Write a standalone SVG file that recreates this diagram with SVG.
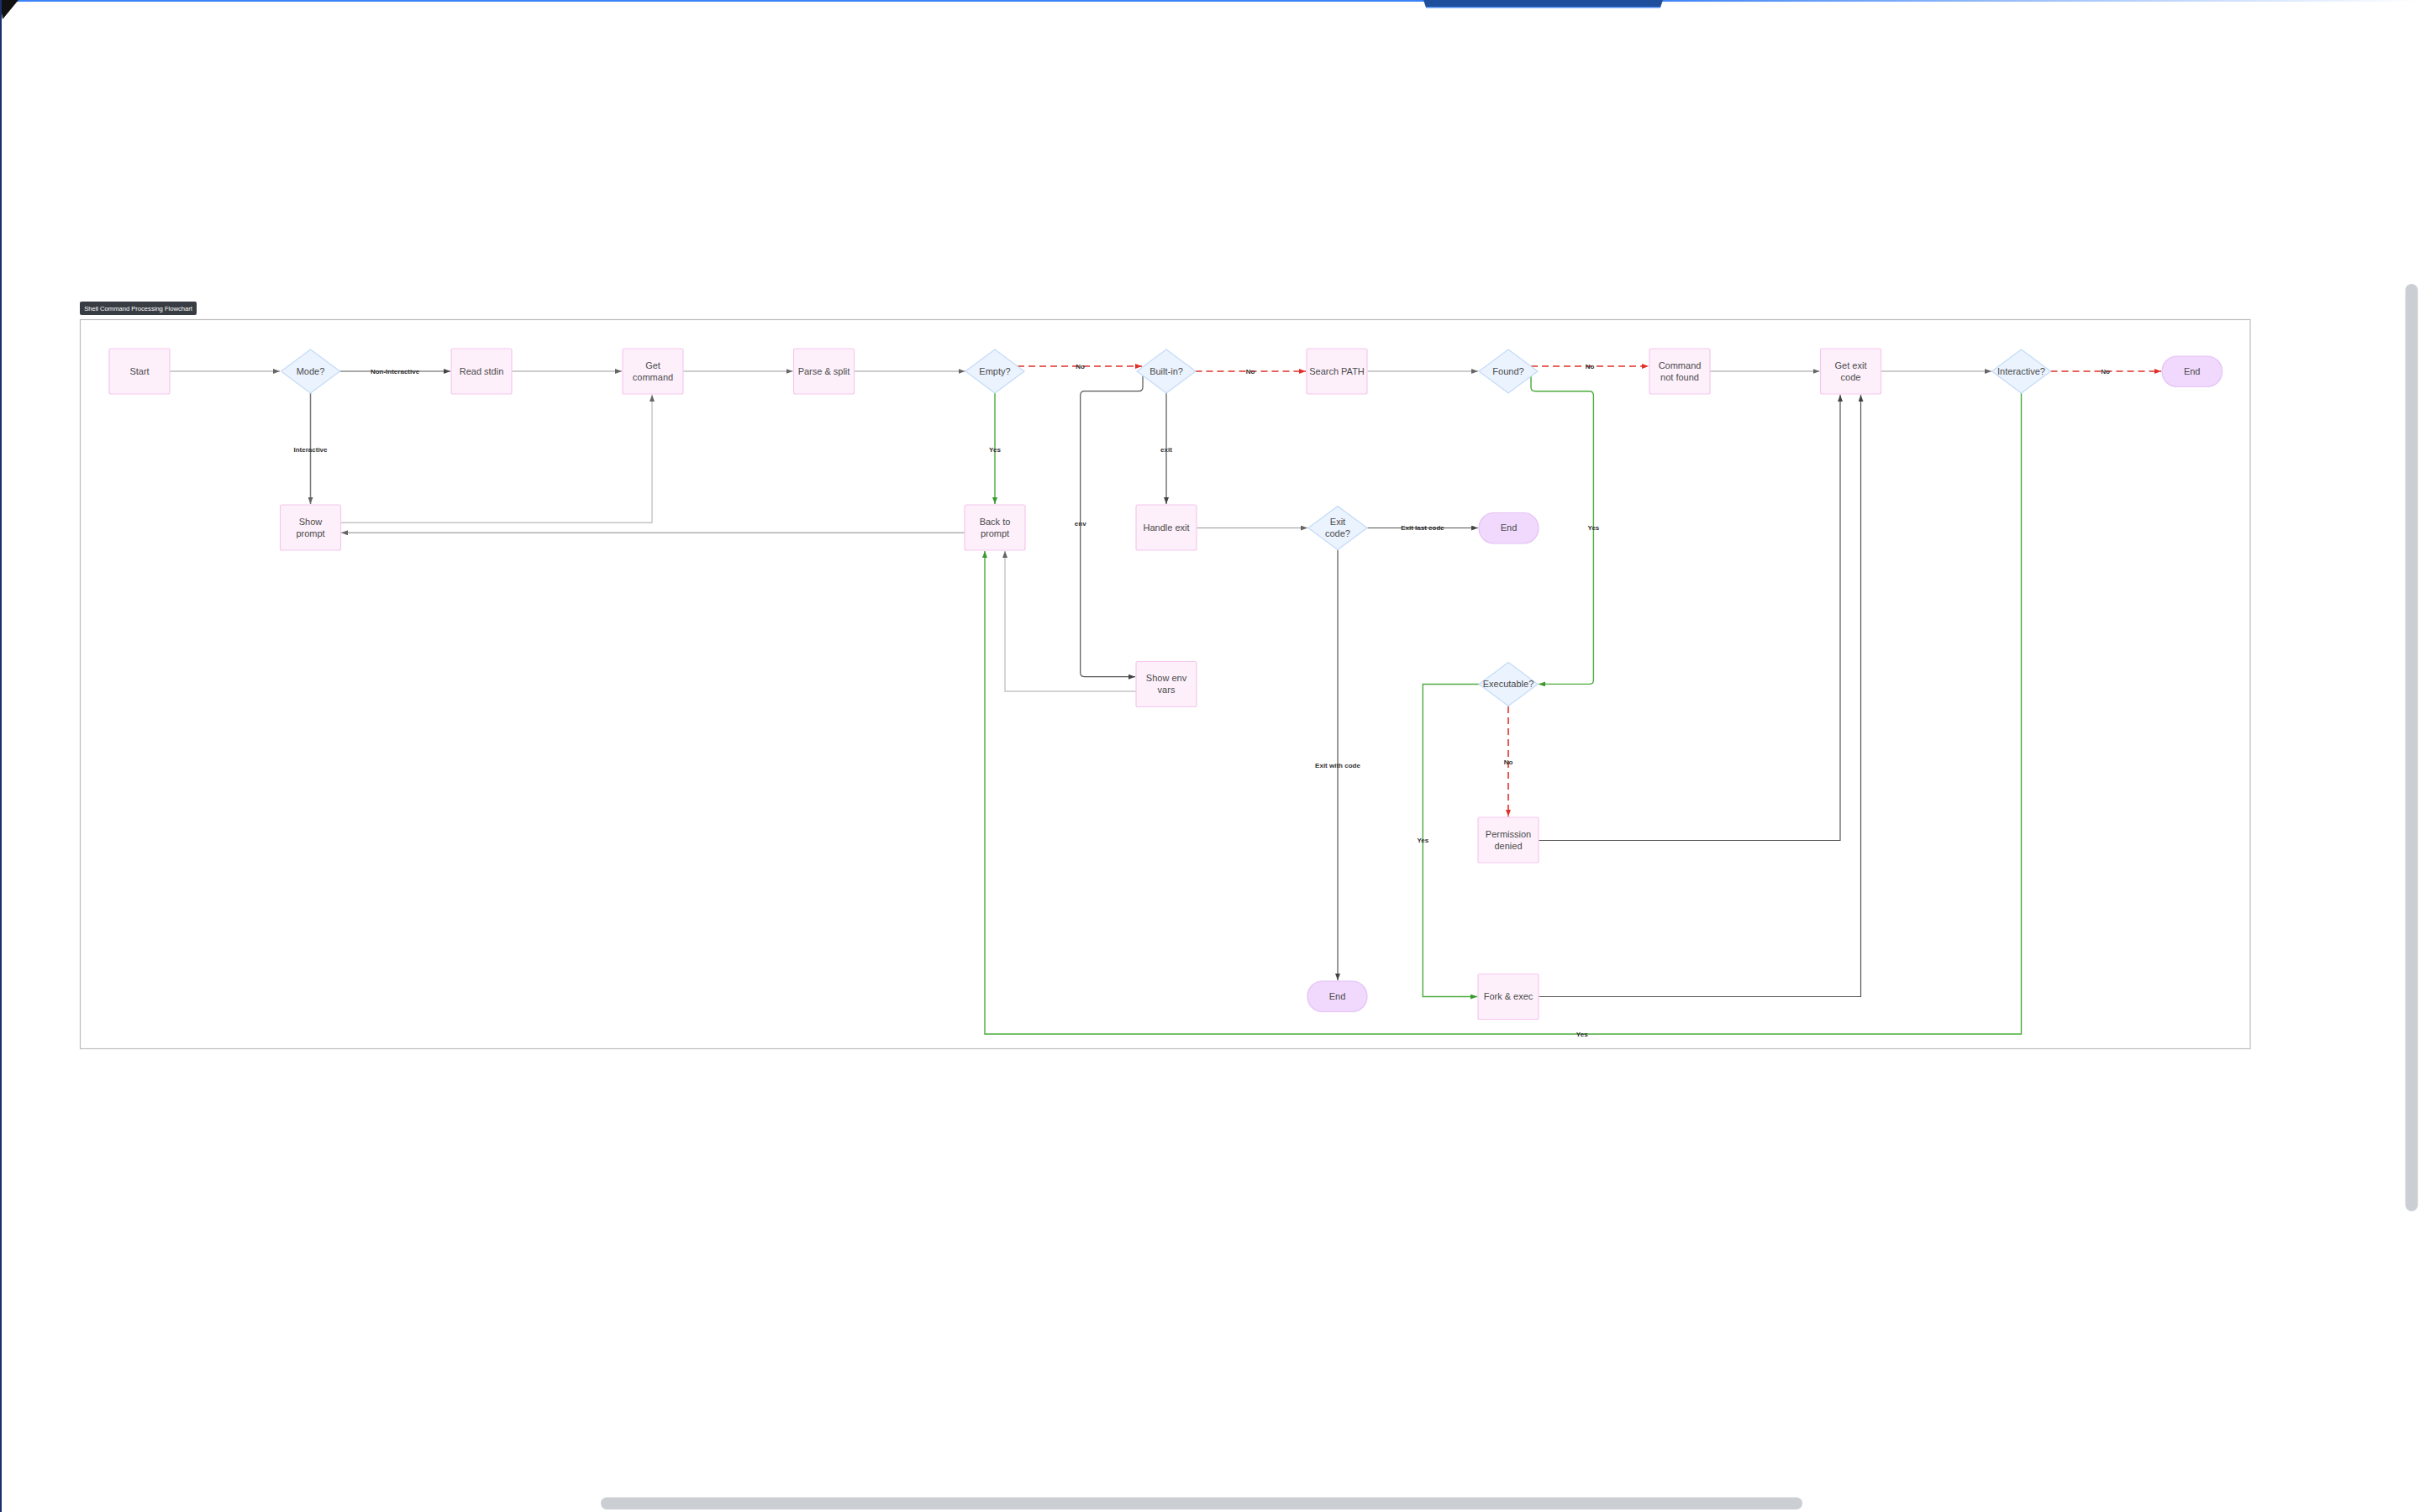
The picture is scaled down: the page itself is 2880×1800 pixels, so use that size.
<svg xmlns="http://www.w3.org/2000/svg" width="2880" height="1800" viewBox="0 0 2880 1800">
<defs>
<linearGradient id="topg" x1="0" y1="0" x2="1" y2="0">
<stop offset="0" stop-color="#3b82f6"/>
<stop offset="0.68" stop-color="#3b82f6"/>
<stop offset="1" stop-color="#3b82f6" stop-opacity="0"/>
</linearGradient>
<marker id="ag" markerWidth="8" markerHeight="6" refX="8" refY="3" orient="auto" markerUnits="userSpaceOnUse"><path d="M0,0 L8,3 L0,6 z" fill="#666"/></marker>
<marker id="ad" markerWidth="8" markerHeight="6" refX="8" refY="3" orient="auto" markerUnits="userSpaceOnUse"><path d="M0,0 L8,3 L0,6 z" fill="#444"/></marker>
<marker id="agr" markerWidth="8" markerHeight="6" refX="8" refY="3" orient="auto" markerUnits="userSpaceOnUse"><path d="M0,0 L8,3 L0,6 z" fill="#3a9a2e"/></marker>
<marker id="ar" markerWidth="8" markerHeight="6" refX="8" refY="3" orient="auto" markerUnits="userSpaceOnUse"><path d="M0,0 L8,3 L0,6 z" fill="#e0302a"/></marker>
</defs>
<style>
.box{fill:#fdf0fb;stroke:#f5c8ee;stroke-width:1.2}
.dia{fill:#ebf3fe;stroke:#c4dbf7;stroke-width:1.2}
.term{fill:#f0d9fd;stroke:#e4c2f6;stroke-width:1.2}
.nt{font-family:"Liberation Sans",Arial,sans-serif;font-size:11px;fill:#4a4a4a;text-anchor:middle}
.el{font-family:"Liberation Sans",Arial,sans-serif;font-size:8px;font-weight:bold;fill:#333;text-anchor:middle}
.e{fill:none;stroke:#999;stroke-width:1;marker-end:url(#ag)}
.el2{stroke:#c4c4c4;stroke-width:1.4}
.ed{stroke:#555;stroke-width:1.2;marker-end:url(#ad)}
.eg{stroke:#4caa3c;stroke-width:1.4;marker-end:url(#agr)}
.er{stroke:#e0302a;stroke-width:1.6;stroke-dasharray:8 5;marker-end:url(#ar)}
</style>
<rect x="0" y="0" width="2880" height="1800" fill="#ffffff"/>
<g id="chrome">
<rect x="0" y="0" width="2880" height="2" fill="url(#topg)"/>
<path d="M1694,0 H1979 L1976,9 H1697 Z" fill="#1f4e9c"/>
<rect x="1697" y="8" width="279" height="1.5" fill="#4a8af0"/>
<path d="M0,0 H22 L3,23 Z" fill="#111"/>
<rect x="0" y="0" width="2" height="1800" fill="#1c2e6e"/>
<rect x="2862.5" y="338" width="15" height="1104" rx="7.5" fill="#cbcfd4"/>
<rect x="715" y="1782.5" width="1430" height="14.5" rx="7.2" fill="#cbcfd4"/>
</g>
<g id="container">
<rect x="95.5" y="380.5" width="2582.5" height="868" fill="#ffffff" stroke="#bdbdbd" stroke-width="1.2"/>
<rect x="95" y="359" width="139" height="16" rx="2" fill="#383c43"/>
<text x="164.5" y="369.8" font-family="'Liberation Sans',Arial,sans-serif" font-size="7.6" fill="#ffffff" text-anchor="middle">Shell Command Processing Flowchart</text>
</g>
<g id="connectors">
<path class="e" d="M202,442 H333"/>
<path class="e ed" d="M404.5,442 H536"/>
<path class="e" style="stroke:#777;stroke-width:1.5" d="M369.5,468 V600"/>
<path class="e" d="M608.6,442 H740"/>
<path class="e" d="M813,442 H943.5"/>
<path class="e" d="M1016.5,442 H1148.5"/>
<path class="e er" d="M1211,436 H1359"/>
<path class="e eg" d="M1184,468 V600"/>
<path class="e er" d="M1422.5,442 H1554"/>
<path class="e ed" d="M1388,468 V600"/>
<path class="e ed" d="M1360,448 V460.7 Q1360,465.7 1355,465.7 H1290.7 Q1285.7,465.7 1285.7,470.7 V800.7 Q1285.7,805.7 1290.7,805.7 H1351"/>
<path class="e" d="M1423.5,628.5 H1556"/>
<path class="e ed" d="M1627,628.5 H1759"/>
<path class="e ed" d="M1592,655 V1167"/>
<path class="e el2" d="M1352,823 H1196 V656"/>
<path class="e" d="M1627.5,442 H1759"/>
<path class="e er" d="M1822,436 H1962"/>
<path class="e eg" d="M1822,448 V460.7 Q1822,465.7 1827,465.7 H1891.4 Q1896.4,465.7 1896.4,470.7 V809.4 Q1896.4,814.4 1891.4,814.4 H1831"/>
<path class="e" d="M2034.5,442 H2165.5"/>
<path class="e er" d="M1795,841 V972"/>
<path class="e eg" d="M1760.5,814.5 H1693.3 V1186.5 H1758"/>
<path class="e ed" d="M1831,1000.5 H2190 V470"/>
<path class="e ed" d="M1831,1186.5 H2214.5 V470"/>
<path class="e" d="M2238,442 H2370"/>
<path class="e er" d="M2440.5,442 H2572"/>
<path class="e eg" d="M2405.5,468 V1231 H1172 V656"/>
<path class="e el2" d="M405.5,622.3 H776 V470"/>
<path class="e el2" style="stroke:#b0b0b0" d="M1148,634.3 H406"/>
<text class="el" x="470" y="444.8">Non-Interactive</text>
<text class="el" x="369.5" y="537.8">Interactive</text>
<text class="el" x="1285.5" y="438.8">No</text>
<text class="el" x="1184" y="537.8">Yes</text>
<text class="el" x="1488" y="444.8">No</text>
<text class="el" x="1388" y="537.8">exit</text>
<text class="el" x="1285.7" y="625.8">env</text>
<text class="el" x="1693" y="631.3">Exit last code</text>
<text class="el" x="1592" y="913.8">Exit with code</text>
<text class="el" x="1892" y="438.8">No</text>
<text class="el" x="1896.4" y="630.8">Yes</text>
<text class="el" x="1795" y="909.8">No</text>
<text class="el" x="1693.3" y="1002.8">Yes</text>
<text class="el" x="2505.6" y="444.8">No</text>
<text class="el" x="1882.7" y="1233.8">Yes</text>
</g>
<g id="n-start"><rect class="box" x="130" y="415" width="72" height="54" rx="2"/><text class="nt" x="166" y="445.8">Start</text></g>
<g id="n-mode"><polygon class="dia" points="369.5,416 404.5,442 369.5,468 334.5,442"/><text class="nt" x="369.5" y="445.8">Mode?</text></g>
<g id="n-readstdin"><rect class="box" x="537" y="415" width="72" height="54" rx="2"/><text class="nt" x="573" y="445.8">Read stdin</text></g>
<g id="n-getcmd"><rect class="box" x="741" y="415" width="72" height="54" rx="2"/><text class="nt" x="777" y="438.8">Get</text><text class="nt" x="777" y="452.8">command</text></g>
<g id="n-parse"><rect class="box" x="944.5" y="415" width="72" height="54" rx="2"/><text class="nt" x="980.5" y="445.8">Parse &amp; split</text></g>
<g id="n-empty"><polygon class="dia" points="1184,416 1219,442 1184,468 1149,442"/><text class="nt" x="1184" y="445.8">Empty?</text></g>
<g id="n-builtin"><polygon class="dia" points="1388,416 1423,442 1388,468 1353,442"/><text class="nt" x="1388" y="445.8">Built-in?</text></g>
<g id="n-search"><rect class="box" x="1555" y="415" width="72" height="54" rx="2"/><text class="nt" x="1591" y="445.8">Search PATH</text></g>
<g id="n-found"><polygon class="dia" points="1795,416 1830,442 1795,468 1760,442"/><text class="nt" x="1795" y="445.8">Found?</text></g>
<g id="n-notfound"><rect class="box" x="1963" y="415" width="72" height="54" rx="2"/><text class="nt" x="1999" y="438.8">Command</text><text class="nt" x="1999" y="452.8">not found</text></g>
<g id="n-getexit"><rect class="box" x="2166.5" y="415" width="72" height="54" rx="2"/><text class="nt" x="2202.5" y="438.8">Get exit</text><text class="nt" x="2202.5" y="452.8">code</text></g>
<g id="n-interactive"><polygon class="dia" points="2405.5,416 2440.5,442 2405.5,468 2370.5,442"/><text class="nt" x="2405.5" y="445.8">Interactive?</text></g>
<g id="n-end1"><rect class="term" x="2573" y="424" width="71.5" height="36.5" rx="18"/><text class="nt" x="2608.7" y="445.8">End</text></g>
<g id="n-showprompt"><rect class="box" x="333.5" y="601" width="72" height="54" rx="2"/><text class="nt" x="369.5" y="624.8">Show</text><text class="nt" x="369.5" y="638.8">prompt</text></g>
<g id="n-back"><rect class="box" x="1148" y="601" width="72" height="54" rx="2"/><text class="nt" x="1184" y="624.8">Back to</text><text class="nt" x="1184" y="638.8">prompt</text></g>
<g id="n-handle"><rect class="box" x="1352" y="601" width="72" height="54" rx="2"/><text class="nt" x="1388" y="631.8">Handle exit</text></g>
<g id="n-exitcode"><polygon class="dia" points="1592,602.5 1627,628.5 1592,654.5 1557,628.5"/><text class="nt" x="1592" y="625.3">Exit</text><text class="nt" x="1592" y="639.3">code?</text></g>
<g id="n-end2"><rect class="term" x="1760" y="610.5" width="71" height="36.5" rx="18"/><text class="nt" x="1795.5" y="632.3">End</text></g>
<g id="n-showenv"><rect class="box" x="1352" y="787.5" width="72" height="54" rx="2"/><text class="nt" x="1388" y="811.3">Show env</text><text class="nt" x="1388" y="825.3">vars</text></g>
<g id="n-executable"><polygon class="dia" points="1795,788.5 1830,814.5 1795,840.5 1760,814.5"/><text class="nt" x="1795" y="818.3">Executable?</text></g>
<g id="n-perm"><rect class="box" x="1759" y="973" width="72" height="54" rx="2"/><text class="nt" x="1795" y="996.8">Permission</text><text class="nt" x="1795" y="1010.8">denied</text></g>
<g id="n-fork"><rect class="box" x="1759" y="1159.5" width="72" height="54" rx="2"/><text class="nt" x="1795" y="1190.3">Fork &amp; exec</text></g>
<g id="n-end3"><rect class="term" x="1556" y="1168" width="71" height="36.5" rx="18"/><text class="nt" x="1591.5" y="1190">End</text></g>
</svg>
